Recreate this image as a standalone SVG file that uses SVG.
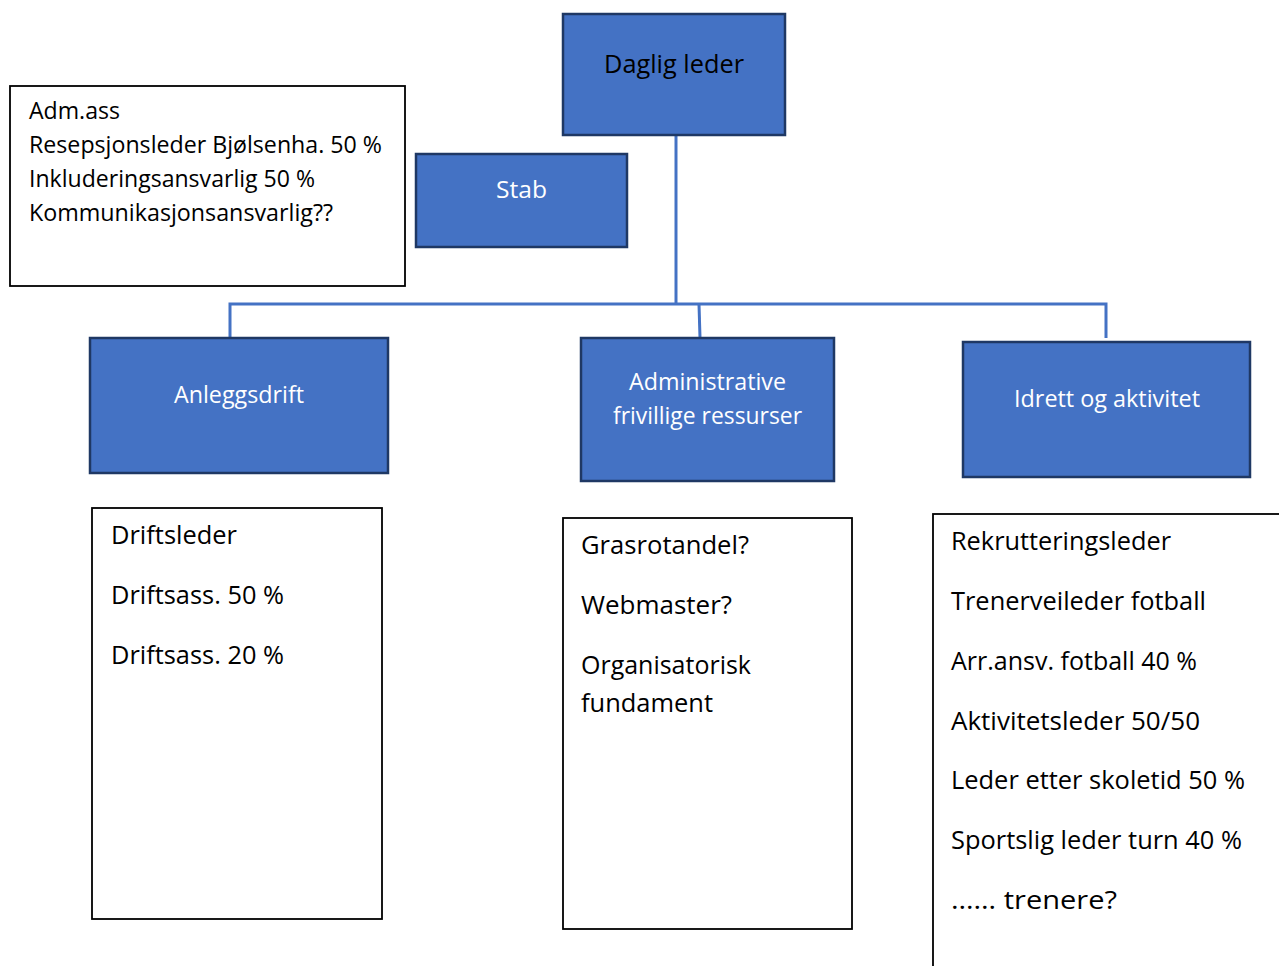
<svg xmlns="http://www.w3.org/2000/svg" width="1279" height="966" viewBox="0 0 1279 966">
<style>
.bx{fill:#4472C4;stroke:#1F3864;stroke-width:2.5}
.wb{fill:#FFFFFF;stroke:#000000;stroke-width:1.8}
.t{font-family:"Open Sans","Noto Sans","Liberation Sans",sans-serif;font-size:24px;fill:#000}
.tl{font-family:"Open Sans","Noto Sans","Liberation Sans",sans-serif;font-size:26px;fill:#000}
.w{fill:#FFFFFF}
.c{fill:none;stroke:#4472C4;stroke-width:3}
</style>
<rect width="1279" height="966" fill="#FFFFFF"/>
<g id="connectors">
<path class="c" d="M676 135 V304"/>
<path class="c" d="M230 338 V304 H1106 V338"/>
<path class="c" d="M699 304 L700 338"/>
</g>
<g id="daglig-leder">
<rect class="bx" x="563" y="14" width="222" height="121"/>
<text class="tl" x="674" y="73" text-anchor="middle" textLength="140" lengthAdjust="spacingAndGlyphs">Daglig leder</text>
</g>
<g id="stab">
<rect class="bx" x="416" y="154" width="211" height="93"/>
<text class="t w" x="521.5" y="198" text-anchor="middle" textLength="51" lengthAdjust="spacingAndGlyphs">Stab</text>
</g>
<g id="adm">
<rect class="wb" x="10" y="86" width="395" height="200"/>
<text class="t" x="29" y="119" textLength="91" lengthAdjust="spacingAndGlyphs">Adm.ass</text>
<text class="t" x="29" y="153" textLength="353" lengthAdjust="spacingAndGlyphs">Resepsjonsleder Bjølsenha. 50 %</text>
<text class="t" x="29" y="187" textLength="286" lengthAdjust="spacingAndGlyphs">Inkluderingsansvarlig 50 %</text>
<text class="t" x="29" y="221" textLength="304" lengthAdjust="spacingAndGlyphs">Kommunikasjonsansvarlig??</text>
</g>
<g id="anleggsdrift">
<rect class="bx" x="90" y="338" width="298" height="135"/>
<text class="t w" x="239" y="403" text-anchor="middle" textLength="130" lengthAdjust="spacingAndGlyphs">Anleggsdrift</text>
</g>
<g id="administrative">
<rect class="bx" x="581" y="338" width="253" height="143"/>
<text class="t w" x="707.5" y="390" text-anchor="middle" textLength="157" lengthAdjust="spacingAndGlyphs">Administrative</text>
<text class="t w" x="707.5" y="424" text-anchor="middle" textLength="189" lengthAdjust="spacingAndGlyphs">frivillige ressurser</text>
</g>
<g id="idrett">
<rect class="bx" x="963" y="342" width="287" height="135"/>
<text class="t w" x="1107" y="407" text-anchor="middle" textLength="186" lengthAdjust="spacingAndGlyphs">Idrett og aktivitet</text>
</g>
<g id="drift-list">
<rect class="wb" x="92" y="508" width="290" height="411"/>
<text class="tl" x="111" y="544" textLength="126" lengthAdjust="spacingAndGlyphs">Driftsleder</text>
<text class="tl" x="111" y="604" textLength="173" lengthAdjust="spacingAndGlyphs">Driftsass. 50 %</text>
<text class="tl" x="111" y="664" textLength="173" lengthAdjust="spacingAndGlyphs">Driftsass. 20 %</text>
</g>
<g id="admin-list">
<rect class="wb" x="563" y="518" width="289" height="411"/>
<text class="tl" x="581" y="554" textLength="168" lengthAdjust="spacingAndGlyphs">Grasrotandel?</text>
<text class="tl" x="581" y="614" textLength="151" lengthAdjust="spacingAndGlyphs">Webmaster?</text>
<text class="tl" x="581" y="674" textLength="170" lengthAdjust="spacingAndGlyphs">Organisatorisk</text>
<text class="tl" x="581" y="712" textLength="132" lengthAdjust="spacingAndGlyphs">fundament</text>
</g>
<g id="idrett-list">
<rect class="wb" x="933" y="514" width="400" height="500"/>
<text class="tl" x="951" y="550" textLength="220" lengthAdjust="spacingAndGlyphs">Rekrutteringsleder</text>
<text class="tl" x="951" y="610" textLength="255" lengthAdjust="spacingAndGlyphs">Trenerveileder fotball</text>
<text class="tl" x="951" y="670" textLength="246" lengthAdjust="spacingAndGlyphs">Arr.ansv. fotball 40 %</text>
<text class="tl" x="951" y="730" textLength="249" lengthAdjust="spacingAndGlyphs">Aktivitetsleder 50/50</text>
<text class="tl" x="951" y="789" textLength="294" lengthAdjust="spacingAndGlyphs">Leder etter skoletid 50 %</text>
<text class="tl" x="951" y="849" textLength="291" lengthAdjust="spacingAndGlyphs">Sportslig leder turn 40 %</text>
<text class="tl" x="951" y="909" textLength="166" lengthAdjust="spacingAndGlyphs">…… trenere?</text>
</g>
</svg>
